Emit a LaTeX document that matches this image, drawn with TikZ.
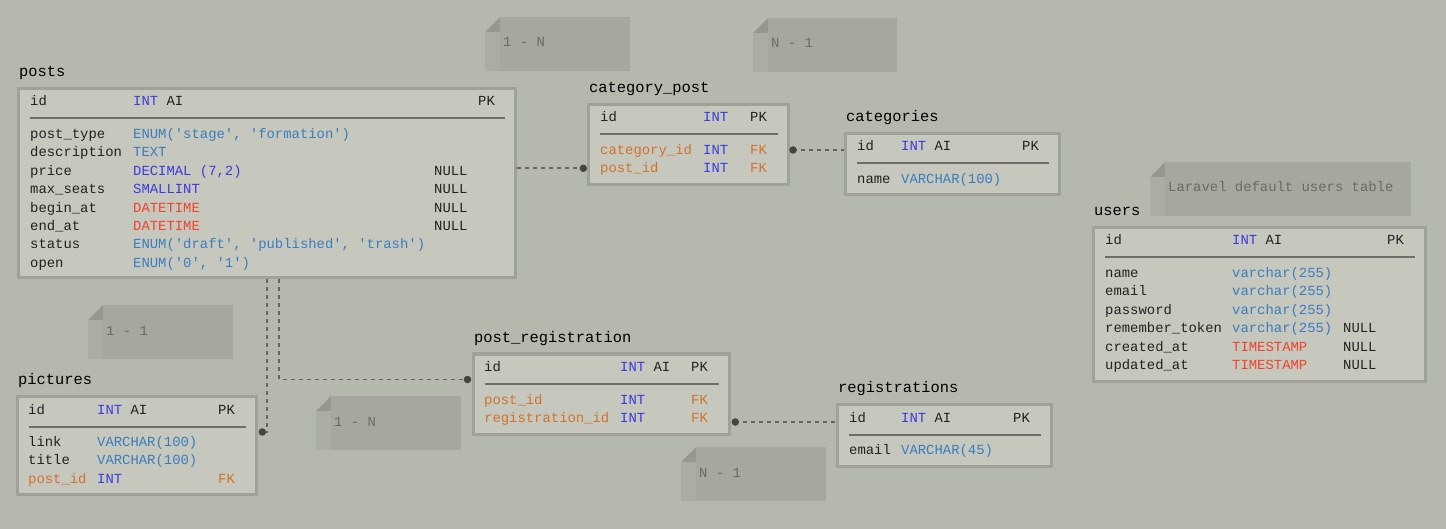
\documentclass[tikz,border=0pt]{standalone}
\usepackage{fontspec}
\setmonofont{Liberation Mono}

% palette
\definecolor{bg}{HTML}{B5B8AD}
\definecolor{tblfill}{HTML}{C6C7BD}
\definecolor{tblline}{HTML}{A0A198}
\definecolor{sepline}{HTML}{6E6F69}
\definecolor{ink}{HTML}{222222}
\definecolor{inttype}{HTML}{3B3BE0}
\definecolor{strtype}{HTML}{3A7EC0}
\definecolor{timetype}{HTML}{F0442C}
\definecolor{fkey}{HTML}{D2722E}
\definecolor{notefill}{HTML}{A6A79E}
\definecolor{notestrip}{HTML}{ABACA3}
\definecolor{notefold}{HTML}{96978F}
\definecolor{notetext}{HTML}{6B6B65}
\definecolor{relline}{HTML}{66665F}
\definecolor{reldot}{HTML}{45453F}

\newcommand\INT{\textcolor{inttype}{INT}}

% table frame: name, left, top, right, bottom, title
\newcommand\dbtable[6]{%
  \node[tbl, anchor=north west, minimum width={#4-#2-3}, minimum height={#5-#3-3}] (#1) at (#2,#3) {};
  \node[ttl] (#1-title) at (#2+2,#3-10.5) {#6};
  \draw[sepln] (#2+12.5,#3+31.5) -- (#4-12.5,#3+31.5);
}

% sticky note: name, left, top, right, bottom, text
\newcommand\sticky[6]{%
  \fill[notestrip] (#2,#3+15) rectangle (#2+15,#5);
  \fill[notefold] (#2,#3+15) -- (#2+15,#3) -- (#2+15,#3+15) -- cycle;
  \fill[notefill] (#2+15,#3) rectangle (#4,#5);
  \node[notetxt] (#1) at (#2+18,#3+30) {#6};
}

\begin{document}
\begin{tikzpicture}[x=1pt,y=-1pt,
  tbl/.style={draw=tblline, fill=tblfill, line width=3pt, rectangle, inner sep=0pt},
  ttl/.style={inner sep=0pt, anchor=base west, text=black, font=\ttfamily\fontsize{15.4}{18}\selectfont},
  txt/.style={inner sep=0pt, anchor=base west, text=ink, font=\ttfamily\fontsize{13.9}{16}\selectfont},
  notetxt/.style={txt, text=notetext},
  sepln/.style={draw=sepline, line width=2pt},
  rel/.style={draw=relline, line width=1.8pt, dash pattern=on 4pt off 4pt},
  dot/.style={circle, fill=reldot, inner sep=0pt, minimum size=7.5pt}]

\fill[bg] (0,0) rectangle (1446,529);
\useasboundingbox (0,0) rectangle (1446,529);

% ---------- sticky notes ----------
\sticky{n-cp}{485}{17}{630}{71}{1 - N}
\sticky{n-cat}{753}{18}{897}{72}{N - 1}
\sticky{n-users}{1150}{162}{1411}{216}{Laravel default users table}
\sticky{n-pic}{88}{305}{233}{359}{1 - 1}
\sticky{n-pr}{316}{396}{461}{450}{1 - N}
\sticky{n-reg}{681}{447}{826}{501}{N - 1}

% ---------- posts ----------
\dbtable{posts}{17}{87}{517}{279}{posts}
\node[txt] (posts-id) at (30,106) {id};
\node[txt] (posts-id-t) at (133,106) {\INT{} AI};
\node[txt] (posts-id-k) at (478,106) {PK};
\node[txt] (posts-1) at (30,138.5) {post\_type};
\node[txt,text=strtype] (posts-1t) at (133,138.5) {ENUM('stage', 'formation')};
\node[txt] (posts-2) at (30,156.9) {description};
\node[txt,text=strtype] (posts-2t) at (133,156.9) {TEXT};
\node[txt] (posts-3) at (30,175.3) {price};
\node[txt,text=inttype] (posts-3t) at (133,175.3) {DECIMAL (7,2)};
\node[txt] (posts-3n) at (434,175.3) {NULL};
\node[txt] (posts-4) at (30,193.7) {max\_seats};
\node[txt,text=inttype] (posts-4t) at (133,193.7) {SMALLINT};
\node[txt] (posts-4n) at (434,193.7) {NULL};
\node[txt] (posts-5) at (30,212.1) {begin\_at};
\node[txt,text=timetype] (posts-5t) at (133,212.1) {DATETIME};
\node[txt] (posts-5n) at (434,212.1) {NULL};
\node[txt] (posts-6) at (30,230.5) {end\_at};
\node[txt,text=timetype] (posts-6t) at (133,230.5) {DATETIME};
\node[txt] (posts-6n) at (434,230.5) {NULL};
\node[txt] (posts-7) at (30,248.9) {status};
\node[txt,text=strtype] (posts-7t) at (133,248.9) {ENUM('draft', 'published', 'trash')};
\node[txt] (posts-8) at (30,267.3) {open};
\node[txt,text=strtype] (posts-8t) at (133,267.3) {ENUM('0', '1')};

% ---------- category_post ----------
\dbtable{catpost}{587}{103}{790}{186}{category\_post}
\node[txt] (catpost-id) at (600,122) {id};
\node[txt,text=inttype] (catpost-id-t) at (703,122) {INT};
\node[txt] (catpost-id-k) at (750,122) {PK};
\node[txt,text=fkey] (catpost-1) at (600,154.5) {category\_id};
\node[txt,text=inttype] (catpost-1t) at (703,154.5) {INT};
\node[txt,text=fkey] (catpost-1k) at (750,154.5) {FK};
\node[txt,text=fkey] (catpost-2) at (600,172.9) {post\_id};
\node[txt,text=inttype] (catpost-2t) at (703,172.9) {INT};
\node[txt,text=fkey] (catpost-2k) at (750,172.9) {FK};

% ---------- categories ----------
\dbtable{categories}{844}{132}{1061}{196.5}{categories}
\node[txt] (categories-id) at (857,151) {id};
\node[txt] (categories-id-t) at (901,151) {\INT{} AI};
\node[txt] (categories-id-k) at (1022,151) {PK};
\node[txt] (categories-1) at (857,183.5) {name};
\node[txt,text=strtype] (categories-1t) at (901,183.5) {VARCHAR(100)};

% ---------- users ----------
\dbtable{users}{1092}{226}{1427}{382.5}{users}
\node[txt] (users-id) at (1105,245) {id};
\node[txt] (users-id-t) at (1232,245) {\INT{} AI};
\node[txt] (users-id-k) at (1387,245) {PK};
\node[txt] (users-1) at (1105,277.5) {name};
\node[txt,text=strtype] (users-1t) at (1232,277.5) {varchar(255)};
\node[txt] (users-2) at (1105,295.9) {email};
\node[txt,text=strtype] (users-2t) at (1232,295.9) {varchar(255)};
\node[txt] (users-3) at (1105,314.3) {password};
\node[txt,text=strtype] (users-3t) at (1232,314.3) {varchar(255)};
\node[txt] (users-4) at (1105,332.7) {remember\_token};
\node[txt,text=strtype] (users-4t) at (1232,332.7) {varchar(255)};
\node[txt] (users-4n) at (1343,332.7) {NULL};
\node[txt] (users-5) at (1105,351.1) {created\_at};
\node[txt,text=timetype] (users-5t) at (1232,351.1) {TIMESTAMP};
\node[txt] (users-5n) at (1343,351.1) {NULL};
\node[txt] (users-6) at (1105,369.5) {updated\_at};
\node[txt,text=timetype] (users-6t) at (1232,369.5) {TIMESTAMP};
\node[txt] (users-6n) at (1343,369.5) {NULL};

% ---------- pictures ----------
\dbtable{pictures}{16}{395}{258}{496.3}{pictures}
\node[txt] (pictures-id) at (28,414) {id};
\node[txt] (pictures-id-t) at (97,414) {\INT{} AI};
\node[txt] (pictures-id-k) at (218,414) {PK};
\node[txt] (pictures-1) at (28,446.5) {link};
\node[txt,text=strtype] (pictures-1t) at (97,446.5) {VARCHAR(100)};
\node[txt] (pictures-2) at (28,464.9) {title};
\node[txt,text=strtype] (pictures-2t) at (97,464.9) {VARCHAR(100)};
\node[txt,text=fkey] (pictures-3) at (28,483.3) {post\_id};
\node[txt,text=inttype] (pictures-3t) at (97,483.3) {INT};
\node[txt,text=fkey] (pictures-3k) at (218,483.3) {FK};

% ---------- post_registration ----------
\dbtable{postreg}{472}{352.5}{731}{435.5}{post\_registration}
\node[txt] (postreg-id) at (484,371.5) {id};
\node[txt] (postreg-id-t) at (620,371.5) {\INT{} AI};
\node[txt] (postreg-id-k) at (691,371.5) {PK};
\node[txt,text=fkey] (postreg-1) at (484,404) {post\_id};
\node[txt,text=inttype] (postreg-1t) at (620,404) {INT};
\node[txt,text=fkey] (postreg-1k) at (691,404) {FK};
\node[txt,text=fkey] (postreg-2) at (484,422.4) {registration\_id};
\node[txt,text=inttype] (postreg-2t) at (620,422.4) {INT};
\node[txt,text=fkey] (postreg-2k) at (691,422.4) {FK};

% ---------- registrations ----------
\dbtable{registrations}{836}{403}{1053}{467.5}{registrations}
\node[txt] (registrations-id) at (849,422) {id};
\node[txt] (registrations-id-t) at (901,422) {\INT{} AI};
\node[txt] (registrations-id-k) at (1013,422) {PK};
\node[txt] (registrations-1) at (849,454.5) {email};
\node[txt,text=strtype] (registrations-1t) at (901,454.5) {VARCHAR(45)};

% ---------- relations ----------
\coordinate (picbend) at (267,432);
\coordinate (regbend) at (279,379.5);

\draw[rel] (posts.east |- 0,168.3) -- (583.3,168.3) coordinate (cpend);
\node[dot] (dot-cp) at (cpend) {};

\draw[rel] (793,150) coordinate (catend) -- (catend -| categories.west);
\node[dot] (dot-cat) at (catend) {};

\draw[rel] (735.3,422) coordinate (regend) -- (regend -| registrations.west);
\node[dot] (dot-reg) at (regend) {};

\draw[rel] (picbend |- posts.south) -- (picbend) -- (262.3,432) coordinate (picend);
\node[dot] (dot-pic) at (picend) {};

\draw[rel] (regbend |- posts.south) -- (regbend) -- (467.5,379.5) coordinate (prend);
\node[dot] (dot-pr) at (prend) {};

\end{tikzpicture}
\end{document}
